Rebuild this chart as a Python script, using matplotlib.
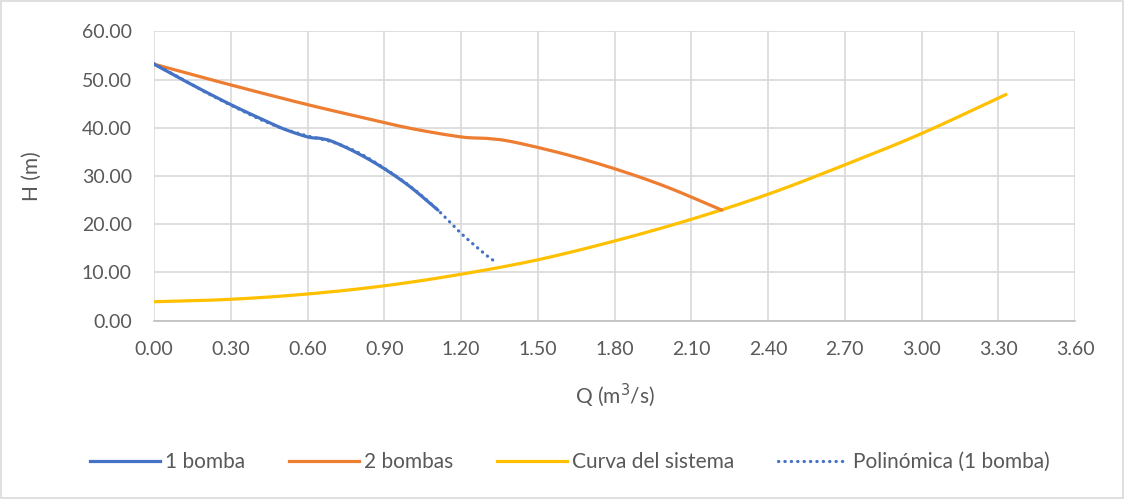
import numpy as np
import matplotlib
matplotlib.use("Agg")
import matplotlib.pyplot as plt
from matplotlib.lines import Line2D
from matplotlib.patches import Rectangle

plt.rcParams['font.family'] = ['Lato', 'DejaVu Sans']

# Pump curve, one pump (Q in m3/s, H in m)
q_1bomba = [0.00, 0.10, 0.20, 0.30, 0.40, 0.50, 0.60, 0.65, 0.70, 0.80, 0.90, 1.00, 1.11]
h_1bomba = [53.2, 50.3, 47.5, 44.8, 42.3, 39.9, 38.1, 37.8, 37.1, 34.6, 31.5, 27.8, 22.9]

# Two identical pumps in parallel
q_2bombas = [0.00, 0.20, 0.40, 0.60, 0.80, 1.00, 1.20, 1.30, 1.40, 1.60, 1.80, 2.00, 2.22]
h_2bombas = [53.2, 50.3, 47.5, 44.8, 42.3, 39.9, 38.1, 37.8, 37.1, 34.6, 31.5, 27.8, 22.9]

# System curve
q_sistema = [0.00, 0.30, 0.60, 0.90, 1.20, 1.50, 1.80, 2.10, 2.40, 2.70, 3.00, 3.33]
h_sistema = [3.9, 4.4, 5.5, 7.2, 9.6, 12.6, 16.5, 21.0, 26.2, 32.3, 38.8, 46.9]

# Polynomial trendline of the one-pump curve (extended forward)
q_poli = [0.00, 0.10, 0.20, 0.30, 0.40, 0.50, 0.60, 0.70, 0.80, 0.90, 1.00, 1.10, 1.20, 1.30, 1.335]
h_poli = [53.3, 50.4, 47.4, 44.7, 42.1, 39.9, 38.3, 37.0, 34.8, 31.6, 27.9, 23.4, 18.1, 13.5, 12.2]

x_ticks = [0.0, 0.3, 0.6, 0.9, 1.2, 1.5, 1.8, 2.1, 2.4, 2.7, 3.0, 3.3, 3.6]
y_ticks = [0, 10, 20, 30, 40, 50, 60]


def smooth(xs, ys, n=20):
    """Catmull-Rom interpolation through the given points."""
    x = np.asarray(xs, float)
    y = np.asarray(ys, float)
    px = np.concatenate([[2 * x[0] - x[1]], x, [2 * x[-1] - x[-2]]])
    py = np.concatenate([[2 * y[0] - y[1]], y, [2 * y[-1] - y[-2]]])
    ox, oy = [], []
    t = np.linspace(0, 1, n, endpoint=False)
    for i in range(1, len(px) - 2):
        for arr, out in ((px, ox), (py, oy)):
            p0, p1, p2, p3 = arr[i - 1], arr[i], arr[i + 1], arr[i + 2]
            out.extend(0.5 * ((2 * p1) + (-p0 + p2) * t
                              + (2 * p0 - 5 * p1 + 4 * p2 - p3) * t ** 2
                              + (-p0 + 3 * p1 - 3 * p2 + p3) * t ** 3))
    ox.append(x[-1])
    oy.append(y[-1])
    return np.array(ox), np.array(oy)


BLUE = '#4472C4'
ORANGE = '#ED7D31'
YELLOW = '#FFC000'
TEXT = '#595959'
GRID = '#D9D9D9'
DOTS = (0, (0.1, 1.9))

fig = plt.figure(figsize=(11.25, 4.99), dpi=100)
ax = fig.add_axes([0.1369, 0.3577, 0.8187, 0.5794])

lw = 2.3
x, y = smooth(q_sistema, h_sistema)
ax.plot(x, y, color=YELLOW, lw=lw, solid_capstyle='round', zorder=3)
x, y = smooth(q_2bombas, h_2bombas)
ax.plot(x, y, color=ORANGE, lw=lw, solid_capstyle='round', zorder=4)
x, y = smooth(q_1bomba, h_1bomba)
ax.plot(x, y, color=BLUE, lw=lw, solid_capstyle='round', zorder=5)
x, y = smooth(q_poli, h_poli)
ax.plot(x, y, color=BLUE, lw=2.3, linestyle=DOTS, dash_capstyle='round', zorder=6)

ax.set_xlim(0, 3.6)
ax.set_ylim(0, 60)
ax.set_xticks(x_ticks)
ax.set_yticks(y_ticks)
ax.set_xticklabels([f'{v:.2f}' for v in x_ticks])
ax.set_yticklabels([f'{v:.2f}' for v in y_ticks])
ax.tick_params(axis='both', length=0, labelsize=14, colors=TEXT)
ax.tick_params(axis='x', pad=15)
ax.tick_params(axis='y', pad=16)
ax.grid(True, color=GRID, lw=1.2)
ax.set_axisbelow(True)
for side in ('top', 'right', 'left'):
    ax.spines[side].set_visible(False)
ax.spines['bottom'].set_color('#BFBFBF')
ax.spines['bottom'].set_linewidth(1.2)

ax.set_xlabel('Q (m$^3$/s)', fontsize=15, color=TEXT)
ax.set_ylabel('H (m)', fontsize=15, color=TEXT)
ax.xaxis.set_label_coords(0.5, -0.258)
ax.xaxis.label.set_va('center')
ax.yaxis.set_label_coords(-0.1325, 0.5)
ax.yaxis.label.set_va('center')

handles = [
    Line2D([], [], color=BLUE, lw=lw),
    Line2D([], [], color=ORANGE, lw=lw),
    Line2D([], [], color=YELLOW, lw=lw),
    Line2D([], [], color=BLUE, lw=2.3, linestyle=DOTS, dash_capstyle='round'),
]
labels = ['1 bomba', '2 bombas', 'Curva del sistema', 'Polinómica (1 bomba)']
fig.legend(handles, labels, loc='center', bbox_to_anchor=(0.5067, 0.074), ncol=4,
           frameon=False, fontsize=15, handlelength=3.35, handletextpad=0.25,
           columnspacing=2.1, labelcolor=TEXT)

fig.add_artist(Rectangle((0.001, 0.002), 0.997, 0.996, transform=fig.transFigure,
                         fill=False, edgecolor=GRID, lw=1.2))

fig.savefig('out.png', dpi=100)
